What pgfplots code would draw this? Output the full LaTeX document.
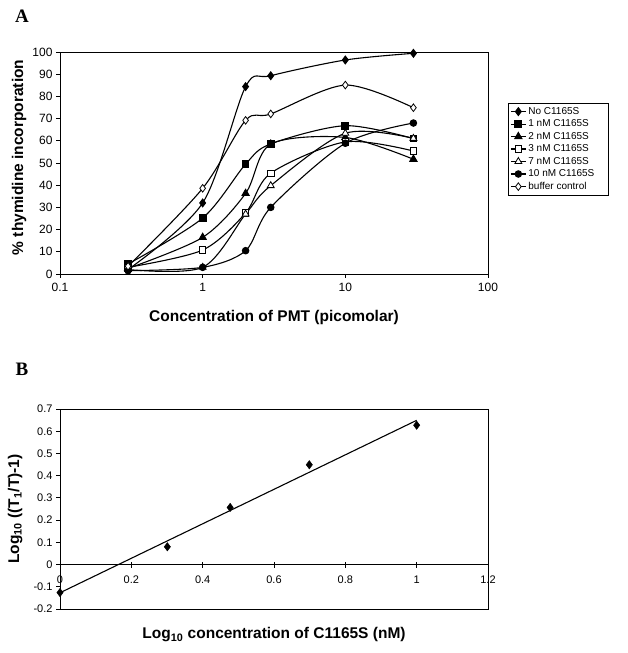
\documentclass[border=0pt]{standalone}
\usepackage{pgfplots}
\pgfplotsset{compat=1.18}
\usepackage{fontspec}
\setmainfont{Liberation Sans}
\newfontfamily\timesfont{Liberation Serif}
\begin{document}
\begin{tikzpicture}[x=1pt,y=1pt]
\path[use as bounding box] (0,0) rectangle (627,653);
\node[font=\timesfont\bfseries\fontsize{19}{19}\selectfont] at (22,637) {A};
\node[font=\timesfont\bfseries\fontsize{19}{19}\selectfont] at (22,284) {B};
% ---------------- Panel A ----------------
\begin{axis}[
  at={(60pt,379pt)}, anchor=south west, scale only axis,
  width=428pt, height=222pt,
  xmode=log, xmin=0.1, xmax=100, ymin=0, ymax=100,
  xtick={0.1,1,10,100}, xticklabels={0.1,1,10,100}, xminorticks=false,
  ytick={0,10,20,30,40,50,60,70,80,90,100},
  yticklabels={0,10,20,30,40,50,60,70,80,90,100},
  tick align=outside, tick pos=left, major tick length=4pt,
  every tick/.style={black, line width=0.8pt},
  tick label style={font=\fontsize{12}{12}\selectfont},
  xticklabel style={yshift=-2pt},
  /pgf/number format/assume math mode=true,
  axis line style={line width=0.9pt},
  xlabel={\bfseries Concentration of PMT (picomolar)},
  xlabel style={at={(axis description cs:0.5,-0.215)}, anchor=base, font=\fontsize{15.5}{15.5}\selectfont},
  ylabel={\bfseries \% thymidine incorporation},
  ylabel style={at={(axis description cs:-0.0958,0.525)}, anchor=center, font=\fontsize{15.5}{15.5}\selectfont},
  every axis plot/.append style={line width=1.1pt, black, smooth, tension=0.5},
  legend style={at={(axis description cs:1.0467,0.770)}, anchor=north west,
    draw=black, line width=0.6pt, font=\fontsize{10}{12}\selectfont,
    inner sep=2pt, row sep=0pt, cells={anchor=west}},
  legend image code/.code={\draw[mark repeat=2,mark phase=2] plot coordinates {(0pt,0pt)(7.5pt,0pt)(15pt,0pt)};},
]
\addplot[mark=diamond*, mark size=3.8pt, mark options={solid,fill=black}] coordinates {(0.3,2)(1,32)(2,84.4)(3,89.3)(10,96.4)(30,99.4)};
\addlegendentry{No C1165S}
\addplot[mark=square*, mark size=3.3pt, mark options={solid,fill=black}] coordinates {(0.3,4.5)(1,25.2)(2,49.5)(3,58.6)(10,66.8)(30,61)};
\addlegendentry{1 nM C1165S}
\addplot[mark=triangle*, mark size=4pt, mark options={solid,fill=black}] coordinates {(0.3,2.5)(1,16.5)(2,36.3)(3,58.5)(10,61.5)(30,51.7)};
\addlegendentry{2 nM C1165S}
\addplot[mark=square*, mark size=3.2pt, mark options={solid,fill=white, line width=0.8pt}] coordinates {(0.3,3)(1,10.8)(2,27.5)(3,45.4)(10,59.5)(30,55.4)};
\addlegendentry{3 nM C1165S}
\addplot[mark=triangle*, mark size=4pt, mark options={solid,fill=white, line width=0.8pt}] coordinates {(0.3,2)(1,3)(2,27)(3,39.8)(10,63.4)(30,61.1)};
\addlegendentry{7 nM C1165S}
\addplot[mark=*, mark size=3.2pt, mark options={solid,fill=black}] coordinates {(0.3,1.5)(1,3)(2,10.5)(3,30)(10,58.9)(30,68)};
\addlegendentry{10 nM C1165S\hspace*{10pt}}
\addplot[mark=diamond*, mark size=3.8pt, mark options={solid,fill=white, line width=0.8pt}] coordinates {(0.3,3.5)(1,38.6)(2,69.2)(3,72.1)(10,85.1)(30,74.9)};
\addlegendentry{buffer control}
\end{axis}
% ---------------- Panel B ----------------
\begin{axis}[
  at={(60pt,44pt)}, anchor=south west, scale only axis,
  width=428pt, height=200pt,
  xmin=0, xmax=1.2, ymin=-0.2, ymax=0.7,
  xtick=\empty,
  ytick={-0.2,-0.1,0,0.1,0.2,0.3,0.4,0.5,0.6,0.7},
  yticklabels={-0.2,-0.1,0,0.1,0.2,0.3,0.4,0.5,0.6,0.7},
  tick align=outside, ytick pos=left, major tick length=4pt,
  every tick/.style={black, line width=0.8pt},
  tick label style={font=\fontsize{11}{11}\selectfont},
  /pgf/number format/assume math mode=true,
  axis line style={line width=0.9pt},
  xlabel={\bfseries Log\textsubscript{10} concentration of C1165S (nM)},
  xlabel style={at={(axis description cs:0.5,-0.147)}, anchor=base, font=\fontsize{15.5}{15.5}\selectfont},
  ylabel={\bfseries Log\textsubscript{10} ((T\textsubscript{1}/T)-1)},
  ylabel style={at={(axis description cs:-0.105,0.5)}, anchor=center, font=\fontsize{15.5}{15.5}\selectfont},
]
\addplot[only marks, mark=diamond*, mark size=4.2pt, black] coordinates {(0,-0.126)(0.301,0.080)(0.477,0.257)(0.699,0.449)(1,0.627)};
\addplot[no marks, line width=1.1pt, black] coordinates {(0,-0.127)(1,0.649)};
\end{axis}
\begin{axis}[
  at={(60pt,44pt)}, anchor=south west, scale only axis,
  width=428pt, height=200pt,
  xmin=0, xmax=1.2, ymin=-0.2, ymax=0.7,
  axis x line*=middle, axis y line=none,
  xtick={0,0.2,0.4,0.6,0.8,1,1.2}, xticklabels={0,0.2,0.4,0.6,0.8,1,1.2},
  tick align=center, major tick length=6pt,
  every tick/.style={black, line width=0.8pt},
  tick label style={font=\fontsize{11}{11}\selectfont},
  xticklabel style={yshift=-5pt},
  /pgf/number format/assume math mode=true,
  axis line style={line width=0.9pt},
]
\end{axis}
\end{tikzpicture}
\end{document}
